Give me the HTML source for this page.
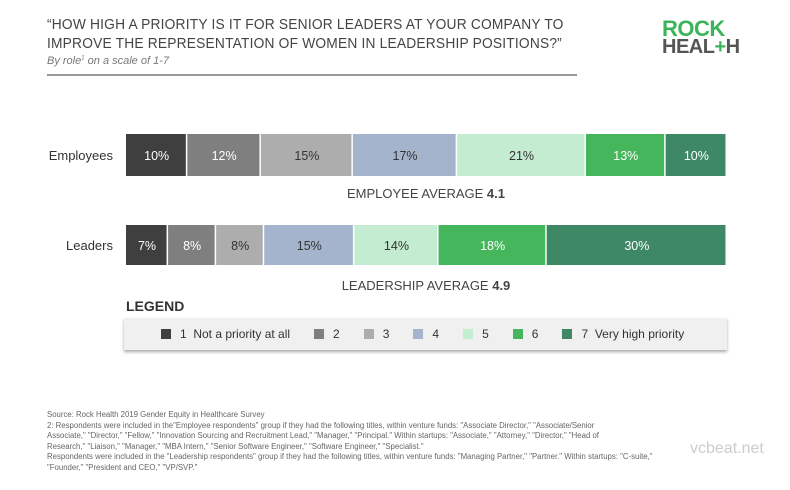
<!DOCTYPE html>
<html><head><meta charset="utf-8"><style>
body{margin:0;width:790px;height:490px;background:#fff;font-family:"Liberation Sans",sans-serif;position:relative;overflow:hidden}
.abs{position:absolute}
</style></head><body>
<div class="abs" style="left:47px;top:16px;font-size:14.5px;color:#444;line-height:19px;letter-spacing:0.2px;transform:scaleX(0.95);transform-origin:left">“HOW HIGH A PRIORITY IS IT FOR SENIOR LEADERS AT YOUR COMPANY TO<br>IMPROVE THE REPRESENTATION OF WOMEN IN LEADERSHIP POSITIONS?”</div>
<div class="abs" style="left:47px;top:55px;font-size:11px;font-style:italic;color:#777">By role<sup style="font-size:6px">1</sup> on a scale of 1-7</div>
<div class="abs" style="left:47px;top:74px;width:530px;height:2px;background:#999"></div>
<div class="abs" style="left:662px;top:19px;font-weight:bold;line-height:19px;font-size:22px;letter-spacing:-0.5px">
<div style="color:#3cb45a">ROCK</div><div style="color:#555;font-size:20px">HEAL<span style="color:#3cb45a">+</span>H</div></div>
<svg class="abs" style="left:0;top:0" width="790" height="400" id="chart"></svg>
<div class="abs" style="left:126px;top:298px;font-size:14px;font-weight:bold;color:#333">LEGEND</div>
<div class="abs" style="left:124px;top:318px;width:603px;height:32px;background:#f0f0f0;box-shadow:0 2px 3px #aaa;display:flex;align-items:center;font-size:12px;color:#333" id="legend"></div>
<div class="abs" style="left:47px;top:410px;font-size:7.8px;color:#666;line-height:10.6px;width:700px;white-space:nowrap">Source: Rock Health 2019 Gender Equity in Healthcare Survey<br>2: Respondents were included in the"Employee respondents" group if they had the following titles, within venture funds: "Associate Director," "Associate/Senior<br>Associate," "Director," "Fellow," "Innovation Sourcing and Recruitment Lead," "Manager," "Principal." Within startups: "Associate," "Attorney," "Director," "Head of<br>Research," "Liaison," "Manager," "MBA Intern," "Senior Software Engineer," "Software Engineer," "Specialist."<br>Respondents were included in the "Leadership respondents" group if they had the following titles, within venture funds: "Managing Partner," "Partner." Within startups: "C-suite,"<br>"Founder," "President and CEO," "VP/SVP."</div>
<div class="abs" style="left:690px;top:440px;font-size:16px;color:#ccc">vcbeat.net</div>
<script>
const categories=["Employees","Leaders"];
const employeeValues=[10,12,15,17,21,13,10];
const leaderValues=[7,8,8,15,14,18,30];
const averages=["4.1","4.9"];
const averageLabels=["EMPLOYEE AVERAGE ","LEADERSHIP AVERAGE "];
const legendLabels=["1  Not a priority at all","2","3","4","5","6","7  Very high priority"];
const colors=["#3f3f3f","#7f7f7f","#adadad","#a4b4cc","#c3ecd0","#45b65c","#3e8866"];
const textColors=["#fff","#fff","#333","#333","#333","#fff","#fff"];
const svg=document.getElementById('chart');
const NS="http://www.w3.org/2000/svg";
const x0=126,x1=727,rowY=[134,225],barH=[42,40],avgY=[198,290];
[employeeValues,leaderValues].forEach((vals,r)=>{
  const tot=vals.reduce((a,b)=>a+b,0);
  const sc=v=>v/tot*(x1-x0);
  let x=x0;
  const lab=document.createElementNS(NS,'text');
  lab.setAttribute('x',113);lab.setAttribute('y',rowY[r]+barH[r]/2+5);lab.setAttribute('text-anchor','end');
  lab.setAttribute('font-size','13');lab.setAttribute('fill','#333');lab.textContent=categories[r];
  
  
  svg.appendChild(lab);
  vals.forEach((v,i)=>{
    const w=sc(v);
    const rc=document.createElementNS(NS,'rect');
    rc.setAttribute('x',x);rc.setAttribute('y',rowY[r]);rc.setAttribute('width',Math.max(w-1.5,0));rc.setAttribute('height',barH[r]);rc.setAttribute('fill',colors[i]);
    
    
    svg.appendChild(rc);
    const t=document.createElementNS(NS,'text');
    t.setAttribute('x',x+w/2);t.setAttribute('y',rowY[r]+barH[r]/2+5);t.setAttribute('text-anchor','middle');
    t.setAttribute('font-size','12.5');t.setAttribute('fill',textColors[i]);t.textContent=v+'%';
    
    
    svg.appendChild(t);
    x+=w;
  });
  const a=document.createElementNS(NS,'text');
  a.setAttribute('x',426);a.setAttribute('y',avgY[r]);a.setAttribute('text-anchor','middle');
  a.setAttribute('font-size','13');a.setAttribute('fill','#444');
  a.innerHTML=averageLabels[r]+'<tspan font-weight="bold">'+averages[r]+'</tspan>';
  
  
  svg.appendChild(a);
});
const lg=document.getElementById('legend');
const gaps=[37,24,24,24,24,24,24];
legendLabels.forEach((l,i)=>{
  const e=document.createElement('div');
  
  
  e.style.cssText='display:flex;align-items:center;margin-left:'+gaps[i]+'px';
  e.innerHTML='<span style="width:10px;height:10px;background:'+colors[i]+';margin-right:9px;display:inline-block"></span><span style="white-space:pre">'+l+'</span>';
  lg.appendChild(e);
});
</script>
</body></html>
